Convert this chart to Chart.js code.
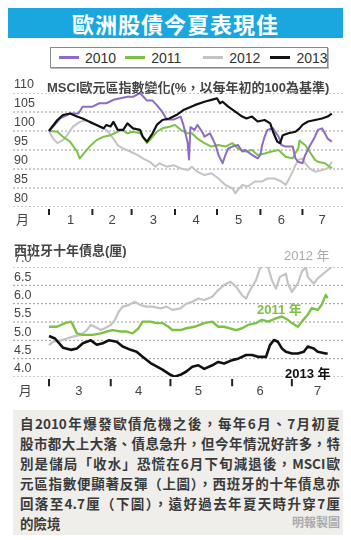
<!DOCTYPE html>
<html>
<head>
<meta charset="utf-8">
<script src="https://cdn.jsdelivr.net/npm/chart.js@4.4.1/dist/chart.umd.min.js"></script>
<style>
  html, body { margin: 0; padding: 0; background: #fff; }
  #page { position: relative; width: 351px; height: 540px; overflow: hidden;
    font-family: "Liberation Sans", "Noto Sans CJK TC", sans-serif; color: #333; }
  .abs { position: absolute; }
  #title { left: 8px; top: 8px; width: 335px; height: 30px; background: #1aa7e0;
    color: #fff; font: bold 22px "Noto Sans CJK TC", sans-serif; line-height: 30px;
    text-align: center; letter-spacing: 1px; }
  #legend { left: 50px; top: 47px; width: 276px; height: 19px; border: 1px solid #8a8a8a;
    box-shadow: 1px 1px 0 #bbb; display: flex; align-items: center; font-size: 14px; color: #333; }
  .item { display: flex; align-items: center; margin-left: 8px; }
  .item i { display: inline-block; width: 20px; height: 3px; margin-right: 6px; }
  .ctitle { font: bold 13px "Liberation Sans", "Noto Sans CJK TC", sans-serif; color: #444; white-space: nowrap; }
  .note { font: bold 13px "Liberation Sans", "Noto Sans CJK TC", sans-serif; white-space: nowrap; }
  #box { left: 13px; top: 410px; width: 330px; height: 125px; background: #efeeeb; }
  #box .ln { position: absolute; left: 7px; width: 320px; height: 20px; line-height: 20px;
    font: bold 13.5px "Noto Sans CJK TC", sans-serif; color: #3a3a3a;
    text-align: justify; text-align-last: justify; white-space: nowrap; }
  #box .last { display: flex; justify-content: space-between; text-align-last: auto; }
  #box .src { color: #aaa; font-size: 12px; }
</style>
</head>
<body>
<div id="page">
  <div id="title" class="abs">歐洲股債今夏表現佳</div>
  <div id="legend" class="abs">
    <span class="item"><i style="background:#8b6cc6"></i>2010</span>
    <span class="item" style="margin-left:9px"><i style="background:#7cc243"></i>2011</span>
    <span class="item" style="margin-left:22px"><i style="background:#c4c4c4"></i>2012</span>
    <span class="item" style="margin-left:10px"><i style="background:#111"></i>2013</span>
  </div>

  <canvas id="msci" class="abs" style="left:0;top:75px" width="351" height="155"></canvas>
  <div class="abs ctitle" style="left:47px;top:77px">MSCI歐元區指數變化(%，以每年初的100為基準)</div>

  <canvas id="bond" class="abs" style="left:0;top:255px" width="351" height="145"></canvas>
  <div class="abs ctitle" style="left:14px;top:240px">西班牙十年債息(厘)</div>
  <div class="abs note" style="left:284px;top:245px;color:#aaa;font-weight:normal">2012 年</div>
  <div class="abs note" style="left:257px;top:299px;color:#7cc243">2011 年</div>
  <div class="abs note" style="left:285px;top:363px;color:#111">2013 年</div>

  <div id="box" class="abs">
    <div class="ln" style="top:3px">自2010年爆發歐債危機之後，每年6月、7月初夏</div>
    <div class="ln" style="top:23px">股市都大上大落、債息急升，但今年情況好許多，特</div>
    <div class="ln" style="top:43px">別是儲局「收水」恐慌在6月下旬減退後，MSCI歐</div>
    <div class="ln" style="top:63px">元區指數便顯著反彈（上圖），西班牙的十年債息亦</div>
    <div class="ln" style="top:83px">回落至4.7厘（下圖），遠好過去年夏天時升穿7厘</div>
    <div class="ln last" style="top:103px"><span>的險境</span><span class="src">明報製圖</span></div>
  </div>
</div>

<script>
// 上圖：MSCI歐元區指數（日數由1月1日起計）
const msciDays2010 = [0, 8, 15, 21, 24, 31, 36, 41, 46, 51, 56, 60, 65, 70, 74, 77, 81, 84, 89, 94, 96, 99, 100, 101, 104, 106, 110, 111, 115, 119, 121, 124, 126, 128, 131, 135, 138, 140, 145, 149, 151, 152, 154, 156, 160, 164, 166, 169, 174, 176, 178, 181, 183, 186, 190, 192, 195, 197, 199, 202];
const msci2010 = [100, 103.3, 104.6, 104.6, 106.4, 106.4, 107.3, 107.3, 108.2, 108.6, 109, 109, 110, 108, 108, 106.8, 105, 103, 103, 103.8, 101.6, 97, 92.5, 101, 100.3, 101.6, 99.4, 98.5, 99.4, 96.3, 93.7, 91.5, 93.7, 95.4, 95.9, 96.3, 94.6, 95, 93.7, 92.8, 93.7, 95.9, 98.5, 100.3, 100.7, 98.5, 96.3, 95.9, 95.9, 92.8, 91.9, 91.5, 93.7, 95.9, 98.5, 100.3, 100.7, 99.4, 98, 97.2];

const msciDays2011 = [0, 6, 10, 15, 20, 22, 24, 29, 34, 39, 44, 49, 52, 56, 60, 65, 70, 72, 77, 81, 86, 90, 94, 99, 102, 106, 111, 116, 121, 126, 131, 135, 140, 145, 149, 154, 159, 164, 169, 174, 178, 179, 181, 183, 186, 190, 192, 197, 202];
const msci2011 = [100, 99.8, 98.5, 97.2, 94.6, 92.8, 93.7, 95.9, 97.6, 98.5, 98.9, 99.8, 100.3, 99.4, 99.8, 99.4, 96.8, 97.6, 99.8, 100.7, 101.1, 101.6, 100.3, 99.4, 99.4, 98, 96.8, 95.9, 96.3, 95.9, 96.8, 95.4, 94.6, 95, 93.7, 94.1, 94.6, 95, 93.2, 92.8, 95.5, 97.5, 96.8, 96.3, 94.6, 92.4, 91.9, 91.5, 90.2];

const msciDays2012 = [0, 3, 6, 10, 13, 17, 22, 27, 31, 36, 41, 46, 49, 53, 58, 63, 67, 72, 76, 79, 84, 89, 94, 99, 102, 106, 111, 116, 121, 126, 131, 133, 135, 138, 142, 147, 152, 156, 161, 166, 169, 171, 174, 176, 178, 181, 183, 186, 190, 195, 199, 202];
const msci2012 = [100, 98, 96.8, 97.6, 98.9, 101.1, 102.4, 102.9, 102, 101.1, 100.3, 98, 96.3, 95.4, 94.6, 93.7, 92.8, 91.9, 90.6, 91.5, 90.6, 91, 90.2, 89.7, 90.6, 89.3, 88.4, 88.9, 87.5, 85.8, 84.9, 83.6, 84.5, 85.8, 85.4, 86.7, 86.7, 87.5, 87.5, 86.7, 85.8, 87.1, 89.3, 91, 92.4, 92.8, 91.5, 90.2, 89.3, 89.7, 90.2, 91.9];

const msciDays2013 = [0, 6, 10, 15, 20, 24, 29, 34, 39, 41, 44, 46, 49, 53, 56, 60, 65, 67, 70, 74, 77, 81, 86, 91, 96, 99, 104, 111, 116, 120, 122, 124, 128, 133, 138, 141, 145, 149, 154, 158, 160, 163, 165, 167, 171, 176, 179, 181, 185, 190, 195, 199, 202];
const msci2013 = [100, 102.9, 104.2, 104.6, 103.8, 103.3, 102.4, 101.6, 100.7, 101.6, 101.2, 102.4, 100.3, 100.3, 102, 100.7, 100.3, 98.5, 97.2, 99.4, 101.6, 102.9, 103.3, 104.2, 105.5, 106, 106.8, 107.7, 108.2, 108.6, 107.3, 107.7, 106.4, 105.1, 103.8, 103.3, 103.8, 102.5, 102.9, 102, 99.8, 97.2, 96.8, 98.9, 99.4, 99.8, 100.7, 101.6, 102.5, 102.9, 103.3, 103.8, 104.6];

const msciTicks = [80, 85, 90, 95, 100, 105, 110];
const msciMonthStarts = [0, 31, 59, 90, 120, 151, 181];
const msciMonthMids = [-19, 15.5, 45, 74.5, 105, 135.5, 166, 195];
const msciMonthLabels = ['月', '1', '2', '3', '4', '5', '6', '7'];
const msciMarkRange = [79.45, 77.9];   // 月份刻度線的上下端（數值單位，在 80 之下）

// 下圖：西班牙十年債息（日數由3月1日起計）
const bondDays2011 = [0, 4, 8, 11, 12, 14, 17, 22, 26, 29, 32, 36, 39, 42, 45, 47, 51, 54, 57, 60, 62, 66, 69, 73, 78, 82, 85, 88, 94, 97, 100, 104, 107, 110, 114, 117, 120, 122, 125, 127, 130, 132, 135, 137, 139, 140];
const bond2011 = [5.37, 5.37, 5.47, 5.51, 5.42, 5.19, 5.15, 5.15, 5.19, 5.24, 5.28, 5.24, 5.24, 5.19, 5.33, 5.51, 5.51, 5.47, 5.47, 5.37, 5.28, 5.28, 5.33, 5.37, 5.47, 5.51, 5.37, 5.37, 5.28, 5.33, 5.42, 5.47, 5.56, 5.51, 5.6, 5.65, 5.56, 5.47, 5.37, 5.51, 5.7, 5.88, 5.83, 5.97, 6.24, 6.15];

const bondDays2012 = [0, 2, 6, 9, 12, 16, 19, 21, 23, 26, 28, 31, 33, 35, 37, 40, 43, 46, 49, 52, 56, 59, 62, 66, 69, 72, 75, 78, 82, 85, 88, 91, 94, 97, 99, 101, 104, 106, 109, 110, 112, 114, 116, 119, 120, 122, 125, 127, 129, 130, 133, 135, 139, 142];
const bond2012 = [4.87, 4.96, 5.0, 5.05, 5.1, 5.15, 5.28, 5.42, 5.37, 5.28, 5.33, 5.42, 5.55, 5.78, 5.92, 5.96, 6.05, 5.96, 5.92, 5.92, 5.87, 5.92, 5.83, 5.87, 6.0, 6.05, 6.14, 6.1, 6.19, 6.37, 6.51, 6.6, 6.46, 6.23, 6.14, 6.37, 6.64, 6.96, 7.1, 7.0, 6.64, 6.41, 6.73, 6.82, 6.55, 6.32, 6.55, 6.87, 7.0, 6.73, 6.55, 6.69, 6.87, 7.0];

const bondDays2013 = [0, 3, 7, 11, 14, 17, 21, 24, 27, 30, 34, 37, 41, 44, 47, 51, 54, 57, 61, 63, 66, 69, 72, 75, 78, 82, 85, 88, 92, 95, 99, 102, 105, 109, 111, 113, 115, 117, 119, 122, 125, 128, 130, 133, 135, 139, 140];
const bond2013 = [5.12, 5.05, 4.8, 4.74, 4.78, 4.92, 5.0, 4.88, 4.92, 5.0, 4.96, 4.83, 4.74, 4.69, 4.55, 4.38, 4.29, 4.2, 4.06, 4.01, 4.06, 4.15, 4.28, 4.32, 4.22, 4.32, 4.41, 4.37, 4.46, 4.5, 4.6, 4.6, 4.55, 4.55, 4.87, 5.01, 4.96, 4.78, 4.69, 4.64, 4.64, 4.69, 4.83, 4.78, 4.69, 4.64, 4.64];

const bondTicks = [4.0, 4.5, 5.0, 5.5, 6.0, 6.5, 7.0];
const bondMonthStarts = [0, 31, 61, 92, 122];
const bondMonthMids = [-12, 15, 45, 75, 106, 135];
const bondMonthLabels = ['月', '3', '4', '5', '6', '7'];
const bondMarkRange = [3.945, 3.75];

const colors = { y2010: '#8b6cc6', y2011: '#7cc243', y2012: '#c4c4c4', y2013: '#111111' };

// 把日數和數值組合成 {x, y} 點
function toPoints(days, values) {
  return days.map((d, i) => ({ x: d, y: values[i] }));
}

function line(label, days, values, color, width, order) {
  return {
    label: label,
    data: toPoints(days, values),
    borderColor: color,
    borderWidth: width,
    pointRadius: 0,
    tension: 0,
    borderJoinStyle: 'round',
    fill: false,
    order: order
  };
}

// 虛線格線：每個刻度值一段橫線，段與段之間用 null 斷開
function gridLines(values, xMin, xMax) {
  const pts = [];
  values.forEach(v => {
    pts.push({ x: xMin, y: v }, { x: xMax, y: v }, { x: xMax, y: null });
  });
  return {
    label: 'grid', data: pts, borderColor: '#9a9a9a', borderWidth: 1, borderDash: [2, 2],
    pointRadius: 0, spanGaps: false, fill: false, order: 10
  };
}

// 月份分界的短刻度，畫在橫軸下方
function monthMarks(starts, range) {
  const pts = [];
  starts.forEach(s => {
    pts.push({ x: s, y: range[0] }, { x: s, y: range[1] }, { x: s, y: null });
  });
  return {
    label: 'marks', data: pts, borderColor: '#222', borderWidth: 2,
    pointRadius: 0, spanGaps: false, fill: false, clip: false, order: 11
  };
}

function buildChart(canvas, datasets, cfg) {
  const tickValues = cfg.ticks;
  const mids = cfg.monthMids;
  const labelOf = {};
  mids.forEach((m, i) => { labelOf[m] = cfg.monthLabels[i]; });

  const all = [gridLines(tickValues, cfg.xMin, cfg.xMax), monthMarks(cfg.monthStarts, cfg.markRange)].concat(datasets);

  return new Chart(canvas, {
    type: 'line',
    data: { datasets: all },
    options: {
      responsive: false,
      animation: false,
      devicePixelRatio: 1,
      layout: { padding: { left: 13, right: 6, top: cfg.padTop, bottom: 0 } },
      plugins: { legend: { display: false }, tooltip: { enabled: false } },
      scales: {
        x: {
          type: 'linear',
          min: cfg.xMin,
          max: cfg.xMax,
          afterFit: (s) => { s.height = cfg.xHeight; },
          afterBuildTicks: (s) => { s.ticks = mids.map(v => ({ value: v })); },
          border: { display: false },
          grid: { display: false, drawTicks: false },
          ticks: {
            autoSkip: false,
            maxRotation: 0,
            padding: cfg.labelPad,
            color: '#444',
            font: { family: '"Liberation Sans", "Noto Sans CJK TC", sans-serif', size: 13 },
            callback: (v) => (labelOf[v] !== undefined ? labelOf[v] : '')
          }
        },
        y: {
          min: tickValues[0],
          max: tickValues[tickValues.length - 1],
          afterFit: (s) => { s.width = 0; },
          afterBuildTicks: (s) => { s.ticks = tickValues.map(v => ({ value: v })); },
          border: { display: false },
          grid: { display: false, drawTicks: false },
          ticks: {
            mirror: true,
            autoSkip: false,
            padding: 1,
            labelOffset: -8,
            color: '#444',
            font: { family: '"Liberation Sans", sans-serif', size: 12.5 },
            callback: (v) => cfg.fmt(v)
          }
        }
      }
    }
  });
}

buildChart(document.getElementById('msci'), [
  line('2013', msciDays2013, msci2013, colors.y2013, 2.2, 0),
  line('2010', msciDays2010, msci2010, colors.y2010, 2, 1),
  line('2011', msciDays2011, msci2011, colors.y2011, 2, 2),
  line('2012', msciDays2012, msci2012, colors.y2012, 2, 3)
], {
  ticks: msciTicks, monthStarts: msciMonthStarts, monthMids: msciMonthMids, monthLabels: msciMonthLabels,
  markRange: msciMarkRange,
  xMin: -25.7, xMax: 211.4, padTop: 18, xHeight: 23, labelPad: 6,
  fmt: (v) => String(v)
});

buildChart(document.getElementById('bond'), [
  line('2013', bondDays2013, bond2013, colors.y2013, 2.6, 0),
  line('2011', bondDays2011, bond2011, colors.y2011, 2.4, 1),
  line('2012', bondDays2012, bond2012, colors.y2012, 2.2, 2)
], {
  ticks: bondTicks, monthStarts: bondMonthStarts, monthMids: bondMonthMids, monthLabels: bondMonthLabels,
  markRange: bondMarkRange,
  xMin: -18.1, xMax: 148.7, padTop: 12, xHeight: 23, labelPad: 7,
  fmt: (v) => v.toFixed(1)
});
</script>
</body>
</html>
